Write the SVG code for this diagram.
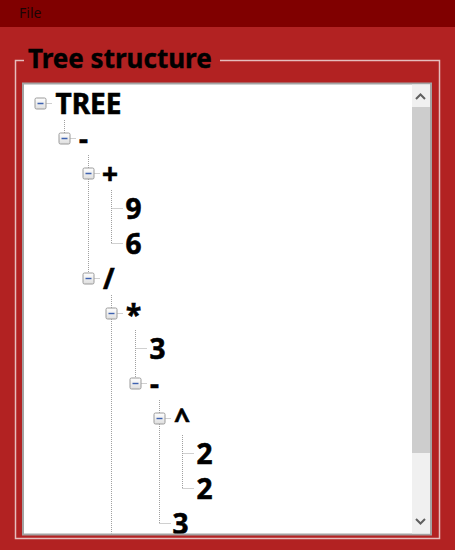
<svg xmlns="http://www.w3.org/2000/svg" width="455" height="550" viewBox="0 0 455 550">
<style>
.t{font-family:"Noto Sans","Open Sans",sans-serif;font-weight:bold;font-size:28px;fill:#000;stroke:#000;stroke-width:0.6}
.dot{stroke:#a0a0a0;stroke-width:1;stroke-dasharray:1 1;fill:none}
.box{fill:url(#bg);stroke:#9a9a9a;stroke-width:1}
.minus{stroke:#3e62b0;stroke-width:1.4}
</style>
<defs>
<linearGradient id="bg" x1="0" y1="0" x2="0" y2="1">
<stop offset="0" stop-color="#ffffff"/>
<stop offset="1" stop-color="#dedede"/>
</linearGradient>
<clipPath id="lc"><rect x="24" y="84.5" width="388" height="449"/></clipPath>
</defs>
<rect x="0" y="0" width="455" height="550" fill="#b22222"/>
<rect x="0" y="0" width="455" height="27" fill="#800000"/>
<text x="19" y="18" font-family="Noto Sans,sans-serif" font-size="14" fill="#1a0505">File</text>
<g id="groupbox">
<path d="M24 60.5 H15.5 V538.5 H439.5 V60.5 H220" fill="none" stroke="#e6bcbc" stroke-width="1.5"/>
<text x="28" y="68" font-family="Noto Sans,Open Sans,sans-serif" font-weight="bold" font-size="26" fill="#000" stroke="#000" stroke-width="0.4">Tree structure</text>
</g>
<g id="listbox">
<rect x="23" y="83.5" width="408" height="451" fill="#ffffff" stroke="#a3a3a3" stroke-width="2"/>
</g>
<g id="scrollbar">
<rect x="412" y="84.5" width="18" height="449" fill="#f0f0f0"/>
<rect x="412" y="107" width="18" height="346" fill="#cdcdcd"/>
<path d="M416 99 L420.5 94.5 L425 99" fill="none" stroke="#606060" stroke-width="2"/>
<path d="M416 519 L420.5 523.5 L425 519" fill="none" stroke="#606060" stroke-width="2"/>
</g>
<g clip-path="url(#lc)">
<g id="connectors">
<path class="dot" d="M64.5 120 V133 M88.5 155 V273 M111.5 190 V243.5 M111.5 295 V540 M135.5 330 V383.5 M159.5 400 V523.5 M182.5 435 V488.5"/>
<path class="dot" d="M46.5 103.5 H52 M70.5 138.5 H76 M94.5 173.5 H100 M94.5 278.5 H100 M117.5 313.5 H123 M141.5 383.5 H147 M165.5 418.5 H171"/>
<path class="dot" d="M111.5 208.5 H123 M111.5 243.5 H123 M135.5 348.5 H147 M182.5 453.5 H194 M182.5 488.5 H194 M159.5 523.5 H171"/>
</g>
<g id="n-tree"><rect class="box" x="35" y="98" width="11" height="11" rx="1.5"/><path class="minus" d="M37.5 103.5 H43.5"/><text class="t" x="55.5" y="113.5">TREE</text></g>
<g id="n-minus1"><rect class="box" x="59" y="133" width="11" height="11" rx="1.5"/><path class="minus" d="M61.5 138.5 H67.5"/><text class="t" x="79" y="148.5">-</text></g>
<g id="n-plus"><rect class="box" x="83" y="168" width="11" height="11" rx="1.5"/><path class="minus" d="M85.5 173.5 H91.5"/><text class="t" x="102" y="183.5">+</text></g>
<g id="n-9"><text class="t" x="125.5" y="218.5">9</text></g>
<g id="n-6"><text class="t" x="125.5" y="253.5">6</text></g>
<g id="n-div"><rect class="box" x="83" y="273" width="11" height="11" rx="1.5"/><path class="minus" d="M85.5 278.5 H91.5"/><text class="t" x="103" y="288.5">/</text></g>
<g id="n-mul"><rect class="box" x="106" y="308" width="11" height="11" rx="1.5"/><path class="minus" d="M108.5 313.5 H114.5"/><text class="t" x="126" y="324.5">*</text></g>
<g id="n-3a"><text class="t" x="149.5" y="358.5">3</text></g>
<g id="n-minus2"><rect class="box" x="130" y="378" width="11" height="11" rx="1.5"/><path class="minus" d="M132.5 383.5 H138.5"/><text class="t" x="150" y="393.5">-</text></g>
<g id="n-pow"><rect class="box" x="154" y="413" width="11" height="11" rx="1.5"/><path class="minus" d="M156.5 418.5 H162.5"/><text class="t" x="174" y="428.5">^</text></g>
<g id="n-2a"><text class="t" x="196.5" y="463.5">2</text></g>
<g id="n-2b"><text class="t" x="196.5" y="498.5">2</text></g>
<g id="n-3b"><text class="t" x="172.5" y="533.5">3</text></g>
</g>
</svg>
